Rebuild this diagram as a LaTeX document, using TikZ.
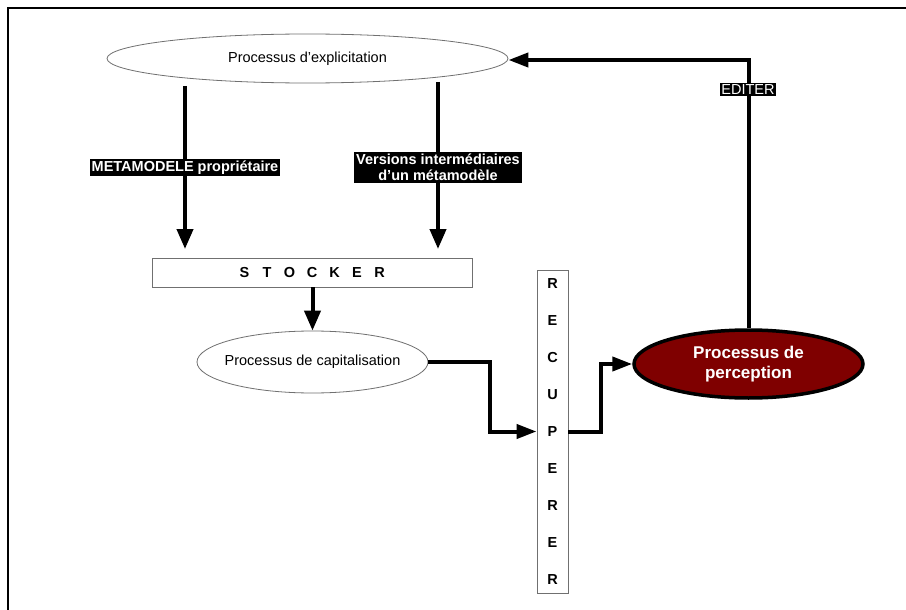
\documentclass[tikz,border=0pt]{standalone}
\usepackage{fontspec}
\setmainfont{Liberation Sans}
\usetikzlibrary{shapes.geometric,arrows.meta,calc}
\definecolor{percred}{HTML}{7F0000}
\definecolor{edgegray}{HTML}{707070}
\newcommand\lspc[1]{\makebox[22.5pt]{#1}}
\tikzset{
  proc/.style={ellipse, draw=edgegray, line width=0.8pt, inner sep=0pt,
    font=\fontsize{14.5}{17}\selectfont},
  proctext/.style={font=\fontsize{14.5}{17}\selectfont, inner sep=0pt},
  bar/.style={rectangle, draw=edgegray, line width=0.9pt, inner sep=0pt},
  thickarr/.style={line width=4pt, -{Triangle[length=20pt,width=16pt]}},
  elbowarr/.style={line width=4pt, -{Triangle[length=20pt,width=14pt]}},
  lab/.style={fill=black, text=white, inner sep=2pt, align=center,
    font=\bfseries\fontsize{14.5}{16}\selectfont},
  lablight/.style={fill=black, text=white, inner sep=1.2pt,
    font=\fontsize{14.5}{16}\selectfont}
}
\begin{document}
\begin{tikzpicture}[x=1pt,y=-1pt]
\useasboundingbox (0,0) rectangle (906,610);
\fill[white] (0,0) rectangle (906,610);
\draw[line width=2.5pt] (8,610) -- (8,8) -- (906,8);

% nodes
\node[proc, minimum width=401pt, minimum height=49pt] (expl) at (307.5,58.5) {};
\node[proctext] (explt) at (expl.center) {Processus d’explicitation};
\node[bar, minimum width=320pt, minimum height=29pt,
  font=\bfseries\fontsize{14.5}{17}\selectfont] (stock) at (312,272.5)
  {\lspc{S}\lspc{T}\lspc{O}\lspc{C}\lspc{K}\lspc{E}\lspc{R}};
\node[proc, minimum width=231pt, minimum height=62pt] (cap) at (312.5,362) {};
\node[proctext] (capt) at (cap.center) {Processus de capitalisation};
\node[bar, minimum width=31pt, minimum height=323pt, align=center,
  font=\bfseries\fontsize{14.5}{37}\selectfont] (recup) at (552.5,431.5)
  {R\\E\\C\\U\\P\\E\\R\\E\\R};
\node[ellipse, draw=black, line width=3.5pt, fill=percred, inner sep=0pt,
  minimum width=229pt, minimum height=68pt] (perc) at (748.5,364) {};
\node[text=white, align=center, inner sep=0pt,
  font=\bfseries\fontsize{17}{20}\selectfont] (perct) at (perc.center)
  {Processus de\\perception};

% connectors
\coordinate (s1) at (185,86);
\coordinate (s2) at (438,82);
\coordinate (t1) at (185,249);
\coordinate (t2) at (438,249);
\draw[thickarr] (s1) -- (t1) node[lab, pos=0.5] {METAMODELE propriétaire};
\draw[thickarr] (s2) -- (t2) node[lab, pos=0.51] {Versions intermédiaires\\d’un métamodèle};
\draw[thickarr] (stock.south -| cap.north) -- (cap.north);

\coordinate (k1) at (490,0);
\draw[elbowarr] (cap.east) -- (cap.east -| k1) -- (k1 |- recup.west) -- (recup.west);
\coordinate (k2) at (601,0);
\draw[elbowarr] (recup.east) -- (recup.east -| k2) -- (k2 |- perc.west) -- (perc.west);
\coordinate (k3) at (0,60);
\draw[elbowarr] (perc.north) -- (perc.north |- k3) -- (expl.east |- k3);
\node[lablight] (edit) at (748,89.5) {EDITER};
\end{tikzpicture}
\end{document}
